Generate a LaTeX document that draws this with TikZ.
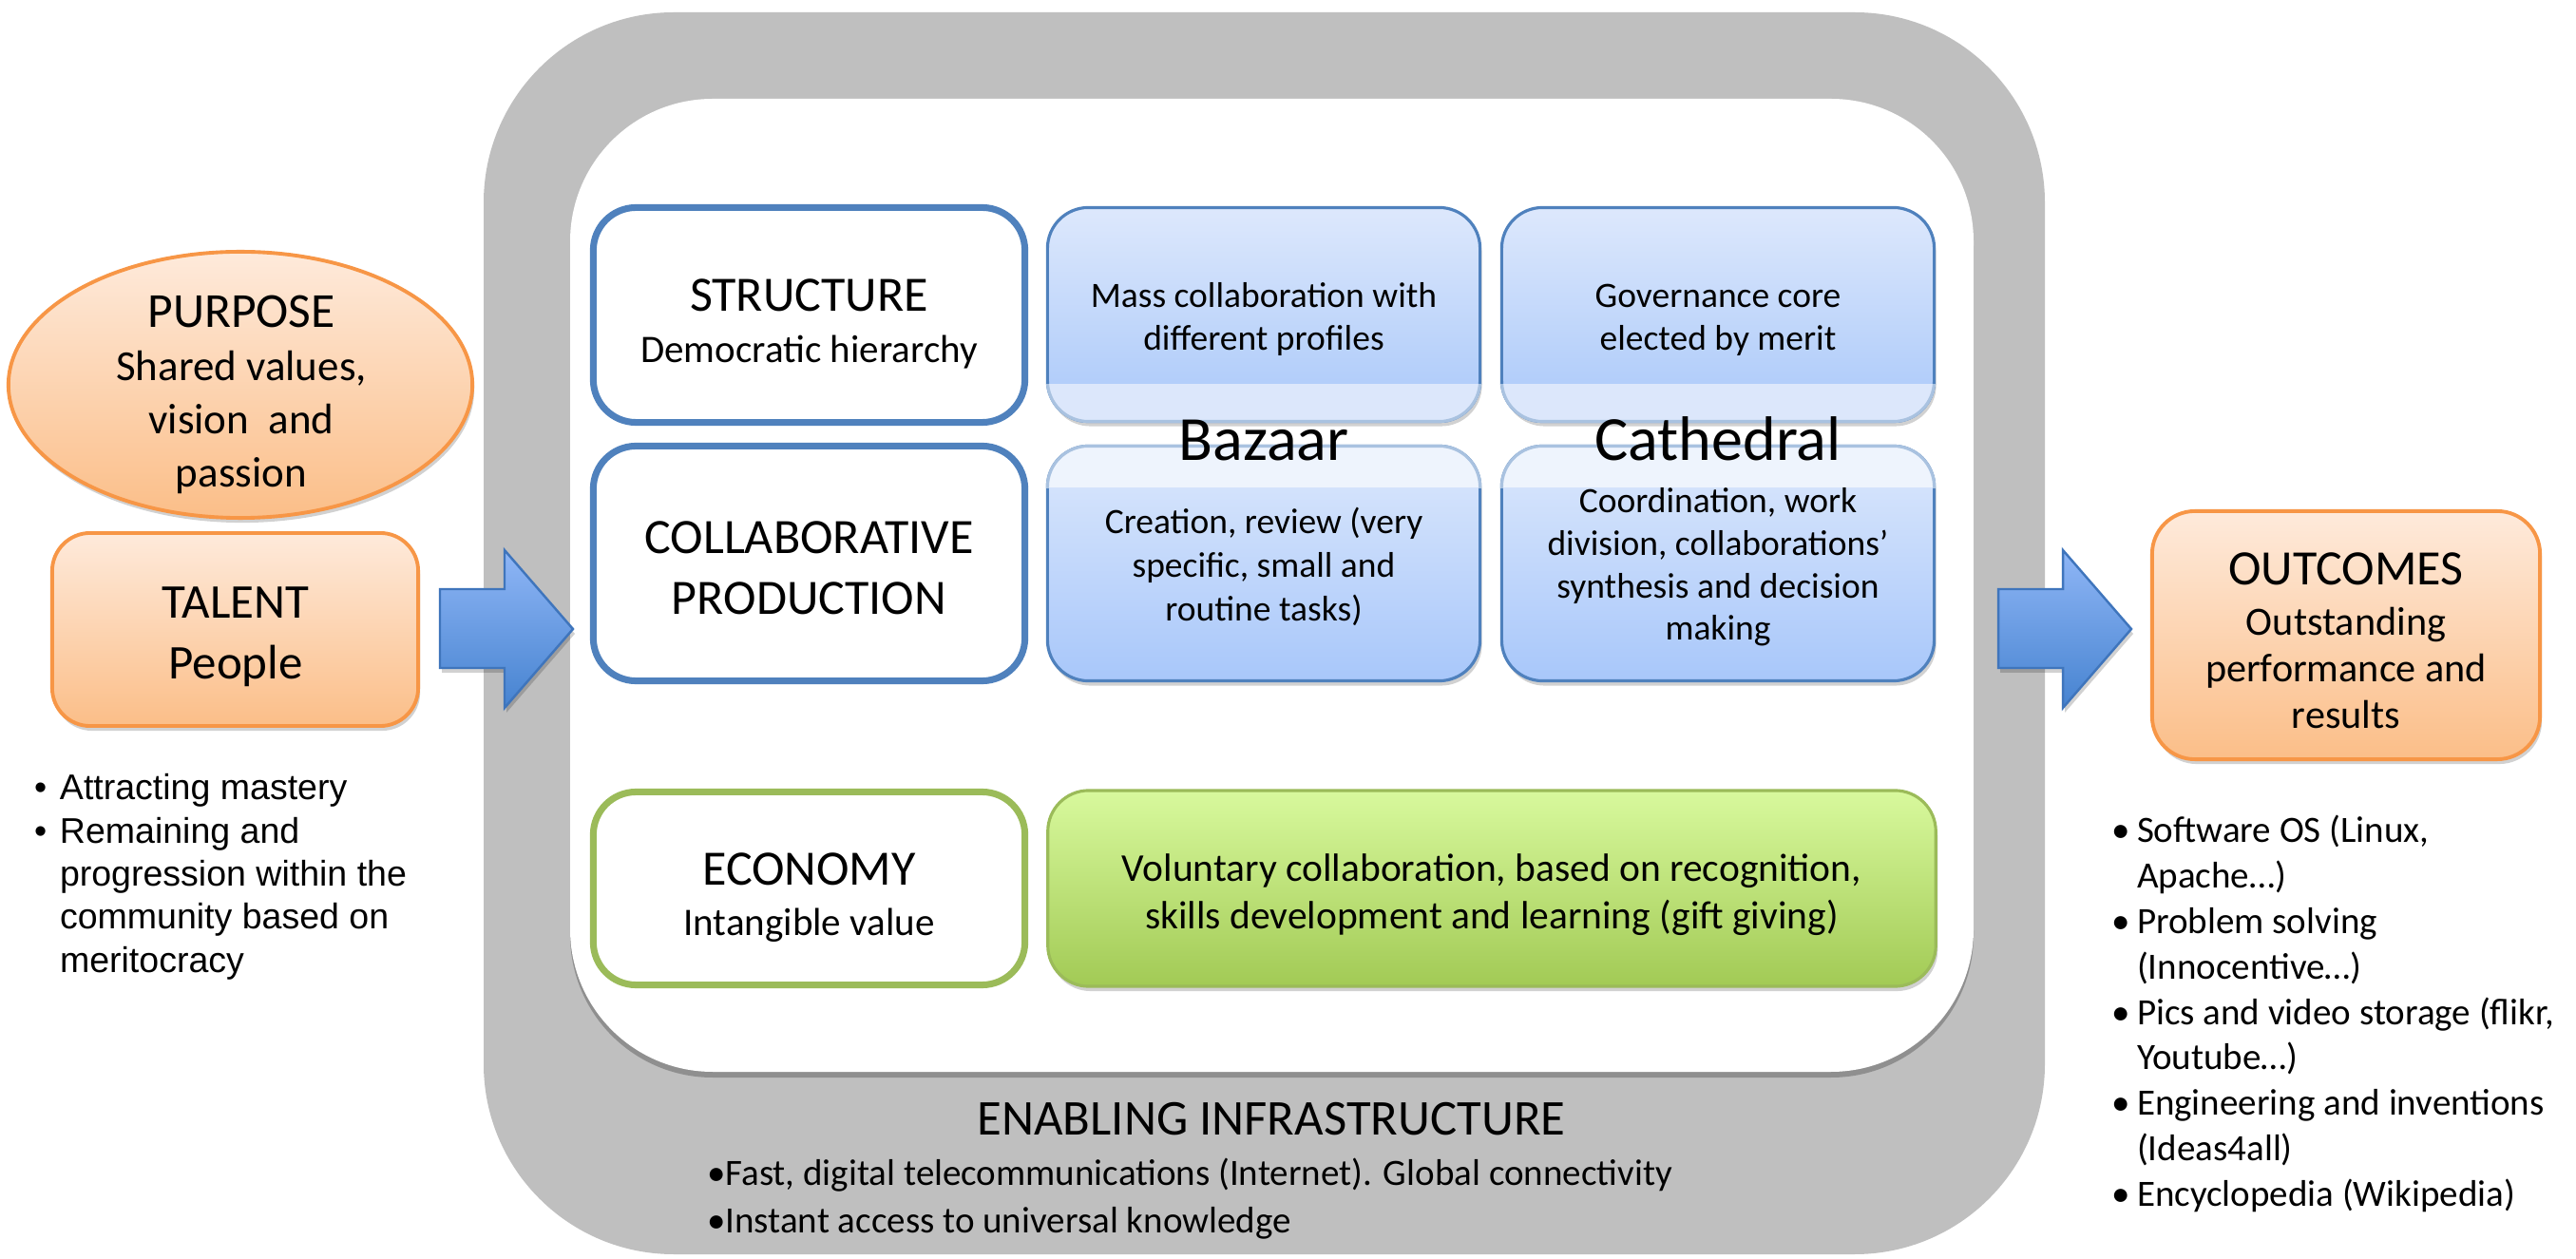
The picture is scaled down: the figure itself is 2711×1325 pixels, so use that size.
\documentclass[tikz,border=0pt]{standalone}
\usepackage{fontspec}
\setmainfont{Carlito}
\newfontfamily\arialf{Liberation Sans}
\usetikzlibrary{shapes.geometric,shadows}
\definecolor{grayc}{HTML}{BFBFBF}
\definecolor{bluestroke}{HTML}{4F81BD}
\definecolor{lightstroke}{HTML}{A9C2E0}
\definecolor{bupTop}{HTML}{DDE8FC}
\definecolor{bupBot}{HTML}{A9C8F9}
\definecolor{bandup}{HTML}{DCE7FB}
\definecolor{bdnTop}{HTML}{DCE8FC}
\definecolor{bdnBot}{HTML}{A8C7FA}
\definecolor{banddn}{HTML}{EEF4FD}
\definecolor{greenstroke}{HTML}{9BBB59}
\definecolor{grTop}{HTML}{D8F99D}
\definecolor{grBot}{HTML}{A2CA55}
\definecolor{orstroke}{HTML}{F79646}
\definecolor{orTop}{HTML}{FEEADB}
\definecolor{orBot}{HTML}{FBBE88}
\definecolor{arrstroke}{HTML}{3F75BC}
\definecolor{arrTop}{HTML}{8FB6F6}
\definecolor{arrBot}{HTML}{4683D0}
\newcommand\mylines[1]{\begin{tabular}[t]{@{}c@{}}#1\end{tabular}}
\newcommand\myleft[1]{\begin{tabular}[t]{@{}l@{}}#1\end{tabular}}
\newcommand\rb{\makebox[0.27cm][l]{•}}
\newcommand\rs{\hspace*{0.27cm}}
\begin{document}
\begin{tikzpicture}[x=0.01cm,y=-0.01cm,
  shadowed/.style={drop shadow={shadow xshift=0.02cm,shadow yshift=-0.05cm,opacity=0.18,fill=black}},
  orangebox/.style={draw=orstroke,line width=1.1pt,top color=orTop,bottom color=orBot,outer sep=0pt,inner sep=0pt,shadowed},
  bluebox/.style={draw=bluestroke,line width=0.9pt,rounded corners=0.43cm,outer sep=0pt,inner sep=0pt,shadowed},
  whitebox/.style={draw=bluestroke,line width=2pt,fill=white,rounded corners=0.45cm,outer sep=0pt,inner sep=0pt},
  arrowst/.style={draw=arrstroke,line width=0.7pt,top color=arrTop,bottom color=arrBot,line join=miter,shadowed},
  txt/.style={inner sep=0pt,outer sep=0pt,anchor=base}]
\useasboundingbox (0,0) rectangle (2711,1325);
\fill[white] (0,0) rectangle (2711,1325);
% infrastructure frame
\fill[grayc,rounded corners=2cm] (509,13) rectangle (2152,1320);
\fill[white,rounded corners=1.5cm,drop shadow={shadow xshift=0cm,shadow yshift=-0.06cm,opacity=0.25,fill=black}] (600,104) rectangle (2077,1128);
% left column boxes
\node[whitebox,minimum width=4.54cm,minimum height=2.26cm] (struct) at (851.5,331.5) {};
\node[whitebox,minimum width=4.54cm,minimum height=2.47cm] (collab) at (851.5,593) {};
\node[whitebox,draw=greenstroke,minimum width=4.54cm,minimum height=2.03cm] (econ) at (851.5,935) {};
% blue boxes
\node[bluebox,top color=bupTop,bottom color=bupBot,minimum width=4.55cm,minimum height=2.25cm] (mass) at (1330,331) {};
\node[bluebox,top color=bupTop,bottom color=bupBot,minimum width=4.55cm,minimum height=2.25cm] (gov) at (1808,331) {};
\node[bluebox,top color=bdnTop,bottom color=bdnBot,minimum width=4.55cm,minimum height=2.47cm] (creat) at (1330,593) {};
\node[bluebox,top color=bdnTop,bottom color=bdnBot,minimum width=4.55cm,minimum height=2.47cm] (coord) at (1808,593) {};
\foreach \n in {mass,gov} {
  \begin{scope}
    \clip[rounded corners=0.43cm] (\n.south west) rectangle (\n.north east);
    \fill[bandup] (\n.south west) rectangle ([yshift=0.395cm]\n.south east);
  \end{scope}
  \begin{scope}
    \clip ([xshift=-0.1cm,yshift=-0.1cm]\n.south west) rectangle ([xshift=0.1cm,yshift=0.395cm]\n.south east);
    \draw[lightstroke,line width=0.9pt,rounded corners=0.43cm] (\n.south west) rectangle (\n.north east);
  \end{scope}
}
\foreach \n in {creat,coord} {
  \begin{scope}
    \clip[rounded corners=0.43cm] (\n.south west) rectangle (\n.north east);
    \fill[banddn] ([yshift=-0.44cm]\n.north west) rectangle (\n.north east);
  \end{scope}
  \begin{scope}
    \clip ([xshift=-0.1cm,yshift=-0.44cm]\n.north west) rectangle ([xshift=0.1cm,yshift=0.1cm]\n.north east);
    \draw[lightstroke,line width=0.9pt,rounded corners=0.43cm] (\n.south west) rectangle (\n.north east);
  \end{scope}
}
% green box
\node[bluebox,draw=greenstroke,top color=grTop,bottom color=grBot,minimum width=9.34cm,minimum height=2.06cm] (gift) at (1570,935) {};
% orange shapes
\node[orangebox,ellipse,minimum width=4.88cm,minimum height=2.80cm] (purpose) at (253,405) {};
\node[orangebox,rounded corners=0.4cm,minimum width=3.85cm,minimum height=2.03cm] (talent) at (247.5,662.5) {};
\node[orangebox,rounded corners=0.45cm,minimum width=4.08cm,minimum height=2.61cm] (outc) at (2469,668.5) {};
% block arrows
\draw[arrowst] (463,620) -- (531,620) -- (531,579) -- (603,662) -- (531,745) -- (531,703) -- (463,703) -- cycle;
\draw[arrowst] (2103,620) -- (2171,620) -- (2171,579) -- (2243,662) -- (2171,745) -- (2171,703) -- (2103,703) -- cycle;
% texts
\node[txt,font=\fontsize{12.8}{15.85}\selectfont] (purposeT) at (254,345) {\mylines{{\fontsize{14.65}{15.85}\selectfont PURPOSE}\\Shared values,\\vision~ and\\passion}};
\node[txt,font=\fontsize{14.5}{18.2}\selectfont] (talentT) at (248,651) {\mylines{TALENT\\People}};
\node[txt,anchor=base west,font=\arialf\fontsize{10.67}{12.87}\selectfont] (talentB) at (36,842) {\myleft{\makebox[0.27cm][l]{•}Attracting mastery\\\makebox[0.27cm][l]{•}Remaining and\\\hspace*{0.27cm}progression within the\\\hspace*{0.27cm}community based on\\\hspace*{0.27cm}meritocracy}};
\node[txt,font=\fontsize{11.67}{15.08}\selectfont] (structT) at (851.5,328) {\mylines{{\fontsize{14.8}{15.08}\selectfont STRUCTURE}\\Democratic hierarchy}};
\node[txt,font=\fontsize{14.8}{18.2}\selectfont] (collabT) at (851.5,583) {\mylines{COLLABORATIVE\\PRODUCTION}};
\node[txt,font=\fontsize{11.67}{14.8}\selectfont] (econT) at (851.5,932) {\mylines{{\fontsize{14.8}{14.8}\selectfont ECONOMY}\\Intangible value}};
\node[txt,font=\fontsize{10.67}{12.6}\selectfont] (massT) at (1330,324) {\mylines{Mass collaboration with\\different profiles}};
\node[txt,font=\fontsize{10.67}{12.6}\selectfont] (govT) at (1808,324) {\mylines{Governance core\\elected by merit}};
\node[txt,font=\fontsize{18.8}{22}\selectfont] (bazaarT) at (1330,485) {Bazaar};
\node[txt,font=\fontsize{18.8}{22}\selectfont] (cathT) at (1808,485) {Cathedral};
\node[txt,font=\fontsize{10.67}{12.95}\selectfont] (creatT) at (1330,562) {\mylines{Creation, review (very\\specific, small and\\routine tasks)}};
\node[txt,font=\fontsize{10.67}{12.66}\selectfont] (coordT) at (1808,540) {\mylines{Coordination, work\\division, collaborations’\\synthesis and decision\\making}};
\node[txt,font=\fontsize{11.8}{14.2}\selectfont] (giftT) at (1570,928) {\mylines{Voluntary collaboration, based on recognition,\\skills development and learning (gift giving)}};
\node[txt,font=\fontsize{15}{18}\selectfont] (enabT) at (1338,1195) {ENABLING INFRASTRUCTURE};
\node[txt,anchor=base west,font=\fontsize{11.1}{13.94}\selectfont] (enabB) at (744,1248) {\myleft{•Fast, digital telecommunications (Internet). Global connectivity\\•Instant access to universal knowledge}};
\node[txt,font=\fontsize{12}{13.94}\selectfont] (outcT) at (2469,616) {\mylines{{\fontsize{14.8}{13.94}\selectfont OUTCOMES}\\[0.85pt]Outstanding\\performance and\\results}};
\node[txt,anchor=base west,font=\fontsize{11.1}{13.59}\selectfont] (outcB) at (2222,887) {\myleft{\rb Software OS (Linux,\\\rs Apache…)\\\rb Problem solving\\\rs (Innocentive…)\\\rb Pics and video storage (flikr,\\\rs Youtube…)\\\rb Engineering and inventions\\\rs (Ideas4all)\\\rb Encyclopedia (Wikipedia)}};
\end{tikzpicture}
\end{document}
